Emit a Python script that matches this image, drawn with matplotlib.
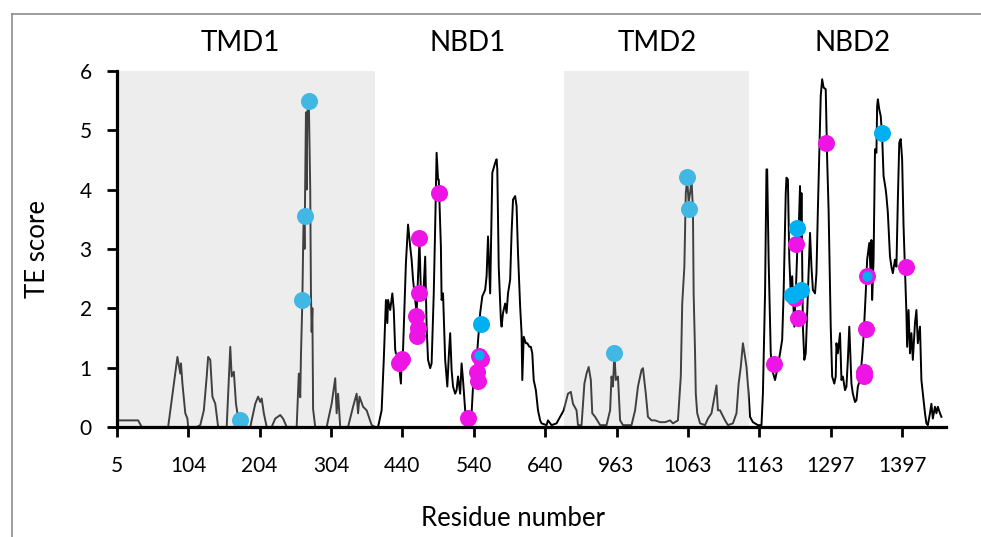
import matplotlib
matplotlib.use("Agg")
import matplotlib.pyplot as plt
from matplotlib.lines import Line2D
from matplotlib.patches import Rectangle

plt.rcParams['font.family'] = ['Lato', 'DejaVu Sans']

# TE score profile, (position index along the residue axis, score)
pos = [0, 3, 30, 35, 72, 85, 89, 90, 92, 96, 99, 100, 112, 117, 122, 126, 128, 131, 134, 138, 142,
       154, 159, 161, 164, 167, 169, 170, 187, 194, 198, 201, 203, 206, 210, 217, 222, 229, 233, 238,
       252, 255, 257, 258, 260, 261, 262, 263, 265, 266, 267, 269, 271, 272, 273, 274, 275, 278,
       294, 301, 306, 308, 310, 313, 324, 331, 336, 338, 340, 345, 350, 357, 362,
       366, 371, 374, 377, 379, 380, 383, 386, 388, 390, 391, 394, 398, 399, 401, 405, 408, 411, 413,
       415, 418, 420, 424, 426, 429, 432, 434, 436, 439, 441, 444, 446, 448, 450, 451, 454, 455, 457,
       460, 463, 465, 467, 469, 471, 474, 476, 478, 481, 483, 485, 488, 491, 495, 497, 500, 504, 509,
       512, 516, 518, 520, 523, 525, 526, 530, 532, 533, 535, 538, 539, 541, 544, 546, 548, 551, 553,
       555, 558, 560, 562, 565, 567, 568, 570, 573, 575, 578, 580, 582, 584, 587, 588, 590, 593, 595,
       602, 604, 609, 616, 621, 626,
       632, 636, 639, 644, 646, 651, 655, 658, 661, 664, 666, 670, 677, 686, 691, 693, 695, 697, 699,
       702, 705, 709, 721, 726, 730, 735, 737, 741, 744, 749, 754, 761, 768, 775, 779, 786, 790, 792,
       795, 797, 799, 801, 803, 805, 807, 808, 810, 811, 813, 817, 824, 828, 833, 838, 840, 842, 845,
       847, 852, 856, 863, 868, 871, 874, 877, 880, 882, 885,
       887, 891, 898, 903, 905, 908, 910, 911, 913, 916, 918, 922, 925, 929, 932, 934, 937, 938, 940,
       942, 944, 946, 949, 951, 953, 955, 957, 958, 959, 961, 963, 965, 968, 971, 973, 975, 978, 980,
       982, 985, 986, 988, 990, 993, 995, 997, 1000, 1002, 1005, 1007, 1008, 1010, 1013, 1015, 1017,
       1020, 1022, 1024, 1026, 1029, 1031, 1034, 1036, 1038, 1041, 1044, 1046, 1049, 1051, 1054, 1056,
       1057, 1058, 1060, 1062, 1064, 1065, 1066, 1068, 1070, 1072, 1074, 1077, 1078, 1080, 1083, 1085,
       1087, 1090, 1092, 1094, 1096, 1098, 1100, 1102, 1105, 1106, 1107, 1109, 1111, 1113, 1115, 1118,
       1120, 1122, 1125, 1127, 1129, 1132, 1134, 1136, 1139, 1141, 1143, 1146, 1148, 1150, 1153, 1155]
te = [0.08, 0.11, 0.11, 0.0, 0.0, 1.18, 0.9, 1.07, 0.73, 0.23, 0.14, 0.0, 0.0, 0.03, 0.28, 0.85, 1.18, 1.13, 0.51, 0.39, 0.0,
      0.0, 1.35, 0.85, 0.93, 0.39, 0.23, 0.0, 0.0, 0.39, 0.51, 0.42, 0.48, 0.23, 0.0, 0.0, 0.14, 0.2, 0.14, 0.0,
      0.0, 0.9, 0.5, 1.2, 2.14, 3.0, 3.66, 3.0, 5.3, 4.0, 5.3, 5.52, 4.0, 2.25, 1.6, 2.0, 0.3, 0.0,
      0.0, 0.39, 0.82, 0.23, 0.56, 0.0, 0.0, 0.34, 0.56, 0.23, 0.51, 0.34, 0.28, 0.03, 0.0,
      0.0, 0.28, 1.13, 2.14, 1.75, 2.14, 1.97, 2.25, 1.97, 1.3, 1.24, 1.21, 0.73, 1.13, 1.3, 2.76, 3.41, 3.04, 2.82,
      2.48, 2.14, 1.92, 3.15, 2.25, 2.14, 2.87, 1.69, 1.13, 0.99, 1.07, 2.25, 3.38, 4.62, 4.17, 4.17, 3.04, 2.14, 2.25,
      1.13, 0.68, 1.18, 1.58, 0.96, 0.68, 0.56, 0.62, 0.85, 0.56, 1.07, 0.79, 0.28, 0.06, 0.11, 0.23, 0.9, 1.13, 1.92,
      2.2, 2.31, 2.54, 3.21, 2.25, 3.6, 4.28, 4.45, 4.51, 4.34, 2.7, 1.8, 1.69, 1.92, 2.08, 1.92, 2.25, 2.48, 3.27,
      3.83, 3.89, 3.72, 2.93, 2.03, 1.58, 0.79, 1.52, 1.41, 1.41, 1.35, 1.35, 1.24, 0.79, 0.62, 0.51, 0.28, 0.11, 0.06,
      0.03, 0.11, 0.03, 0.06, 0.17, 0.28,
      0.56, 0.59, 0.39, 0.28, 0.03, 0.03, 0.73, 0.9, 1.01, 0.79, 0.23, 0.17, 0.03, 0.03, 0.28, 0.85, 0.68, 1.24, 0.79,
      0.85, 0.11, 0.03, 0.03, 0.28, 0.68, 0.96, 0.99, 0.56, 0.17, 0.11, 0.11, 0.08, 0.08, 0.11, 0.06, 0.11, 0.85, 2.08,
      2.7, 3.94, 4.17, 3.78, 3.94, 4.17, 3.66, 2.25, 1.24, 0.56, 0.23, 0.06, 0.03, 0.14, 0.23, 0.56, 0.7, 0.28, 0.28,
      0.23, 0.11, 0.03, 0.06, 0.23, 0.73, 1.01, 1.41, 1.18, 1.01, 0.56,
      0.17, 0.08, 0.03, 0.03, 0.56, 2.25, 4.34, 4.34, 2.82, 1.24, 0.96, 0.79, 0.96, 1.24, 1.47, 2.25, 3.94, 4.2, 4.17,
      2.82, 2.25, 2.54, 1.69, 2.25, 2.93, 3.27, 4.06, 3.04, 3.94, 1.69, 1.13, 1.24, 2.25, 3.27, 2.7, 2.31, 2.25, 2.59,
      3.66, 5.07, 5.58, 5.86, 5.72, 5.69, 4.51, 3.66, 1.69, 0.85, 0.73, 0.85, 1.41, 1.24, 1.58, 0.79, 0.85,
      0.62, 0.68, 1.13, 1.69, 0.73, 0.56, 0.42, 0.45, 0.68, 0.79, 1.18, 1.52, 2.25, 2.82, 3.1, 2.54,
      3.15, 2.14, 2.82, 4.68, 4.62, 5.41, 5.52, 5.35, 5.24, 4.9, 4.23, 4.0, 3.89, 3.61, 2.87, 2.7,
      2.59, 2.82, 2.7, 3.83, 4.79, 4.85, 4.51, 3.38, 2.25, 1.92, 1.35, 1.97, 1.24, 1.58, 1.13, 1.75,
      1.97, 1.41, 1.69, 0.79, 0.56, 0.23, 0.06, 0.03, 0.23, 0.39, 0.14, 0.34, 0.23, 0.34, 0.23, 0.17]

# highlighted residues
magenta_pos = [396, 399, 424, 423, 419, 422, 421, 451, 492, 507, 510, 505, 506,
               921, 993, 952, 950, 954, 1049, 1047, 1046, 1051, 1105]
magenta_te = [1.07, 1.15, 3.18, 2.26, 1.87, 1.66, 1.53, 3.95, 0.15, 1.2, 1.14, 0.93, 0.77,
              1.06, 4.78, 3.09, 2.17, 1.84, 1.65, 0.93, 0.86, 2.54, 2.69]
cyan_pos = [173, 260, 263, 269, 510, 697, 799, 801, 953, 946, 958, 1072]
cyan_te = [0.11, 2.14, 3.56, 5.5, 1.74, 1.245, 4.22, 3.68, 3.35, 2.23, 2.31, 4.96]
cyan_small_pos = [507, 1051]
cyan_small_te = [1.21, 2.54]

tick_pos = [0, 100, 200, 300, 400, 500, 600, 700, 800, 900, 1000, 1100]
tick_labels = ['5', '104', '204', '304', '440', '540', '640', '963', '1063', '1163', '1297', '1397']

domains = ['TMD1', 'NBD1', 'TMD2', 'NBD2']
domain_centers = [173, 492, 757, 1031]
tmd_spans = [(0, 362), (626, 885)]

fig = plt.figure(figsize=(9.81, 5.37), dpi=100)
ax = fig.add_axes([0.119, 0.205, 0.845, 0.663])

ax.plot(pos, te, color='black', lw=1.4, zorder=2)
ax.scatter(magenta_pos, magenta_te, s=150, color='#ee14e6', zorder=3, linewidths=0)
ax.scatter(cyan_pos, cyan_te, s=150, color='#00b0f0', zorder=4, linewidths=0)
ax.scatter(cyan_small_pos, cyan_small_te, s=55, color='#00b0f0', zorder=5, linewidths=0)

# transmembrane domains are greyed out on top of the trace
for a, b in tmd_spans:
    ax.add_patch(Rectangle((a, 0), b - a, 6, facecolor=(0.79, 0.79, 0.79), alpha=0.32,
                           edgecolor='none', zorder=6))

for name, c in zip(domains, domain_centers):
    ax.text(c, 1.079, name, transform=ax.get_xaxis_transform(), ha='center', va='center',
            fontsize=20)

ax.set_xlim(0, 1161)
ax.set_ylim(0, 6)
ax.set_xticks(tick_pos)
ax.set_xticklabels(tick_labels)
ax.set_yticks(range(7))
ax.tick_params(axis='both', direction='out', length=7, width=2.0, labelsize=15)
ax.tick_params(axis='x', pad=14)
ax.tick_params(axis='y', pad=11)
for s in ['top', 'right']:
    ax.spines[s].set_visible(False)
for s in ['left', 'bottom']:
    ax.spines[s].set_linewidth(2.3)
    ax.spines[s].set_zorder(10)

ax.set_xlabel('Residue number', fontsize=18.5)
ax.xaxis.label.set_va('center')
ax.xaxis.set_label_coords(0.478, -0.258)
ax.set_ylabel('TE score', fontsize=18.5)
ax.yaxis.label.set_va('center')
ax.yaxis.set_label_coords(-0.096, 0.5)

# outer frame
fig.add_artist(Line2D([11.5 / 981, 1], [1 - 14 / 537, 1 - 14 / 537], color='#8c8c8c', lw=1.2))
fig.add_artist(Line2D([11.5 / 981, 11.5 / 981], [0, 1 - 14 / 537], color='#8c8c8c', lw=1.2))

fig.savefig('out.png', dpi=100)
